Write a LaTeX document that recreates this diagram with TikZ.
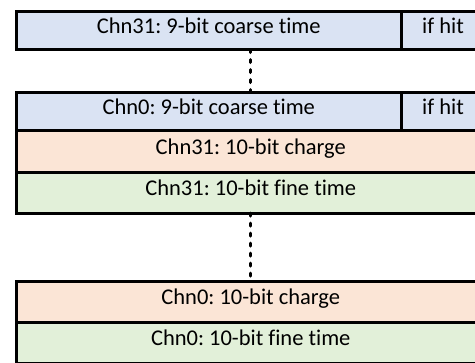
\documentclass[tikz,border=0pt]{standalone}
\usepackage{fontspec}
\setmainfont[Ligatures={NoCommon}]{Carlito}
\frenchspacing
\definecolor{rowblue}{HTML}{DAE3F3}
\definecolor{roworange}{HTML}{FBE5D6}
\definecolor{rowgreen}{HTML}{E2F0D9}
\tikzset{
  field/.style={draw=black, line width=3bp, inner sep=0pt, outer sep=0pt,
    minimum height=#1, text height=0.62em, text depth=0pt,
    font=\fontsize{22.5bp}{27bp}\selectfont},
  field/.default=38bp,
  gap/.style={line width=3bp, line cap=round, dash pattern=on 3bp off 7bp}
}
\begin{document}
\begin{tikzpicture}[x=1bp, y=-1bp]
  \useasboundingbox (0,0) rectangle (475,362);
  \clip (0,0) rectangle (475,362);

  % first channel group: coarse time word
  \node[field=38bp, fill=rowblue, minimum width=384.5bp] (g1a) at (208.75,30.5) {Chn31: 9-bit coarse time};
  \node[field=38bp, fill=rowblue, minimum width=84bp] (g1b) at (443,30.5) {if hit};

  % second group: coarse time, charge and fine time
  \node[field=38.5bp, fill=rowblue, minimum width=384.5bp] (g2a) at (208.75,111.25) {Chn0: 9-bit coarse time};
  \node[field=38.5bp, fill=rowblue, minimum width=84bp] (g2b) at (443,111.25) {if hit};
  \node[field=41.5bp, fill=roworange, minimum width=468.5bp] (g2c) at (250.75,151.25) {Chn31: 10-bit charge};
  \node[field=41bp, fill=rowgreen, minimum width=468.5bp] (g2d) at (250.75,192.5) {Chn31: 10-bit fine time};

  % last group: charge and fine time of channel 0
  \node[field=40.5bp, fill=roworange, minimum width=468.5bp] (g3a) at (250.75,301.75) {Chn0: 10-bit charge};
  \node[field=41bp, fill=rowgreen, minimum width=468.5bp] (g3b) at (250.75,342.5) {Chn0: 10-bit fine time};

  % ellipsis connectors between groups
  \draw[gap] (g2c.north |- g1a.south) -- (g2c.north |- g2a.north);
  \draw[gap] (g2d.south) -- (g3a.north);
\end{tikzpicture}
\end{document}
